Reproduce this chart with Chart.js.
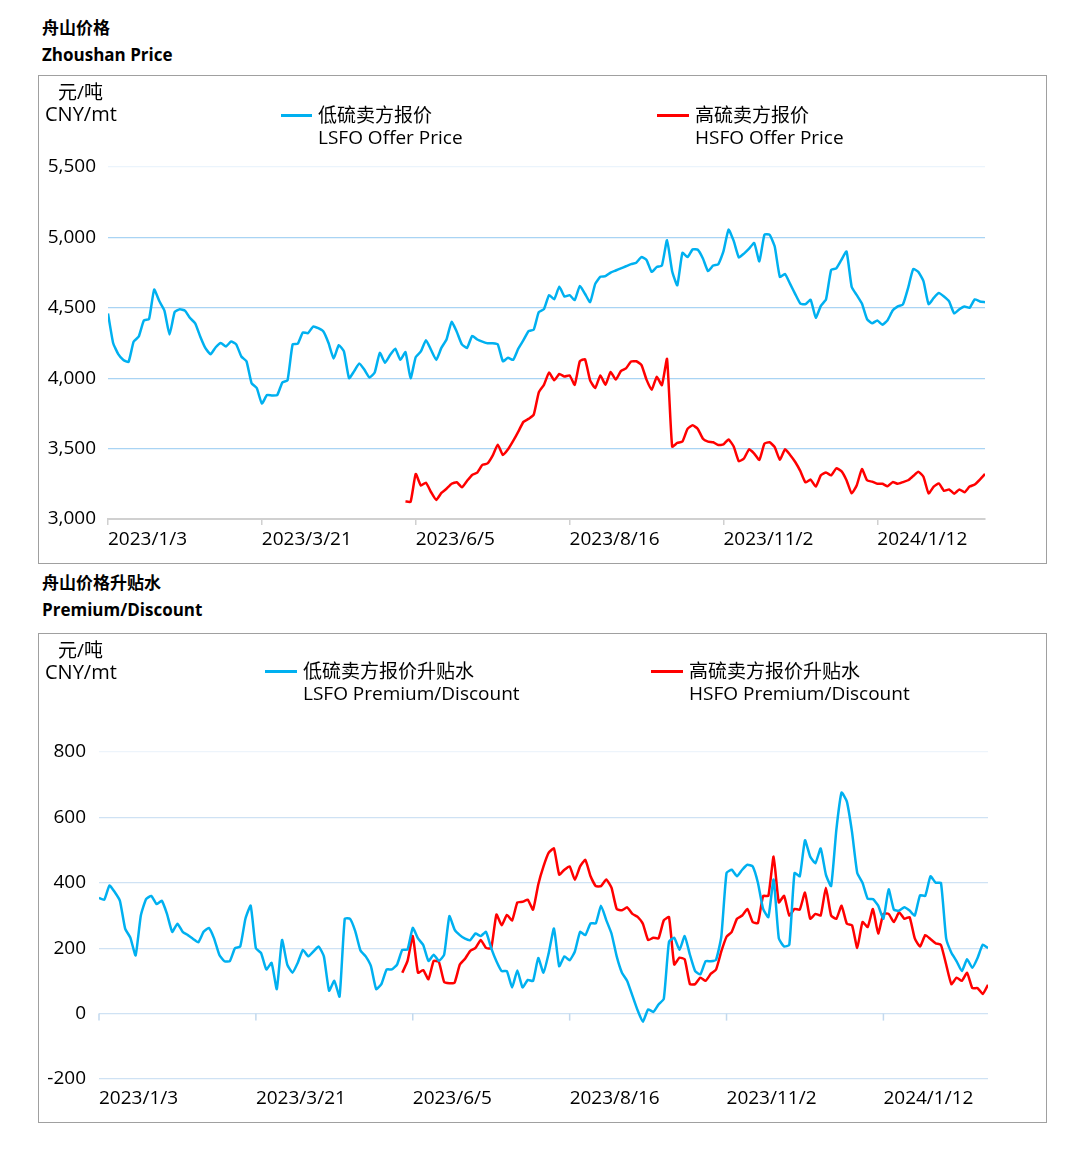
<!DOCTYPE html>
<html><head><meta charset="utf-8">
<script src="https://cdn.jsdelivr.net/npm/chart.js@4.4.1/dist/chart.umd.min.js"></script>
<style>
body{margin:0;width:1080px;height:1154px;background:#fff;position:relative;font-family:"Open Sans","Noto Sans CJK SC",sans-serif;color:#000;overflow:hidden}
.t{position:absolute;font-weight:bold;font-size:17px;line-height:20px;white-space:nowrap;left:42px}
.box{position:absolute;border:1px solid #a0a0a0;box-sizing:border-box}
.lbl{position:absolute;font-size:19px;line-height:22px;white-space:nowrap}
.sw{position:absolute;height:2.5px}
canvas{position:absolute}
</style></head>
<body>
<div class="t" style="top:18px">舟山价格</div>
<div class="t" style="top:45px">Zhoushan Price</div>
<div class="box" style="left:38px;top:75px;width:1009px;height:489px"></div>
<canvas id="c1" width="1006" height="486" style="left:39px;top:76px;width:1006px;height:486px"></canvas>
<div class="lbl" style="left:58px;top:81px">元/吨</div>
<div class="lbl" style="left:45px;top:103px;font-size:20px">CNY/mt</div>
<div class="sw" style="left:281px;top:114px;width:31px;background:#00b0f0"></div>
<div class="lbl" style="left:318px;top:104px">低硫卖方报价</div>
<div class="lbl" style="left:318px;top:126px">LSFO Offer Price</div>
<div class="sw" style="left:657px;top:114px;width:32px;background:#ff0000"></div>
<div class="lbl" style="left:695px;top:104px">高硫卖方报价</div>
<div class="lbl" style="left:695px;top:126px">HSFO Offer Price</div>

<div class="t" style="top:573px">舟山价格升贴水</div>
<div class="t" style="top:600px">Premium/Discount</div>
<div class="box" style="left:38px;top:633px;width:1009px;height:490px"></div>
<canvas id="c2" width="1006" height="487" style="left:39px;top:634px;width:1006px;height:487px"></canvas>
<div class="lbl" style="left:58px;top:639px">元/吨</div>
<div class="lbl" style="left:45px;top:661px;font-size:20px">CNY/mt</div>
<div class="sw" style="left:265px;top:670px;width:32px;background:#00b0f0"></div>
<div class="lbl" style="left:303px;top:660px">低硫卖方报价升贴水</div>
<div class="lbl" style="left:303px;top:682px">LSFO Premium/Discount</div>
<div class="sw" style="left:651px;top:670px;width:32px;background:#ff0000"></div>
<div class="lbl" style="left:689px;top:660px">高硫卖方报价升贴水</div>
<div class="lbl" style="left:689px;top:682px">HSFO Premium/Discount</div>

<script>
// ---- data ----
const tickLabels = ["2023/1/3","2023/3/21","2023/6/5","2023/8/16","2023/11/2","2024/1/12"];
const tickIdx = [0,30,60,90,120,150];
const priceTicks = [3000,3500,4000,4500,5000,5500];
const premTicks = [-200,0,200,400,600,800];

const lsfoPrice = [4460,4250,4171,4130,4115,4260,4296,4410,4420,4630,
 4548,4480,4310,4470,4490,4480,4427,4390,4295,4213,
 4170,4220,4250,4225,4260,4240,4154,4120,3964,3930,
 3820,3880,3877,3880,3970,3985,4240,4245,4325,4320,
 4367,4355,4332,4250,4140,4235,4190,4000,4050,4105,
 4060,4005,4040,4180,4110,4165,4210,4130,4185,4000,
 4150,4190,4270,4200,4130,4215,4275,4400,4330,4240,
 4215,4300,4275,4260,4248,4248,4240,4120,4145,4130,
 4210,4270,4335,4344,4470,4490,4590,4560,4650,4580,
 4590,4555,4655,4600,4540,4670,4720,4725,4750,4765,
 4780,4795,4810,4820,4860,4840,4755,4790,4800,4980,
 4760,4660,4890,4860,4915,4912,4850,4760,4800,4810,
 4900,5055,4975,4858,4885,4920,4960,4830,5020,5019,
 4935,4720,4740,4670,4597,4530,4526,4557,4430,4514,
 4560,4770,4780,4840,4900,4650,4590,4530,4420,4390,
 4410,4380,4412,4480,4510,4524,4640,4775,4755,4690,
 4526,4570,4605,4580,4545,4460,4490,4510,4500,4560,
 4545,4540];

const hsfoPriceStart = 58;
const hsfoPrice = [3125,3122,3320,3238,3258,3190,3135,3185,3215,3250,
 3261,3225,3270,3313,3330,3384,3395,3450,3528,3455,
 3495,3555,3620,3690,3711,3740,3900,3953,4040,3985,
 4030,4012,4020,3953,4120,4135,3985,3930,4020,3953,
 4045,3990,4050,4070,4118,4120,4095,3990,3917,4010,
 3950,4137,3514,3540,3550,3640,3665,3640,3570,3550,
 3545,3525,3530,3565,3515,3410,3430,3495,3465,3420,
 3535,3545,3510,3420,3495,3455,3405,3340,3260,3280,
 3230,3310,3330,3310,3360,3340,3275,3182,3240,3355,
 3275,3265,3250,3250,3232,3262,3250,3262,3275,3305,
 3335,3300,3182,3230,3253,3200,3210,3180,3210,3190,
 3230,3245,3280,3320];

const lsfoPrem = [354,348,392,372,345,260,232,178,300,350,
 360,335,345,305,250,275,250,240,228,218,
 250,262,230,180,160,160,200,205,290,330,
 200,185,135,155,75,225,150,125,155,195,
 175,190,205,175,70,100,52,290,290,252,
 193,175,145,75,90,135,135,150,195,196,
 262,230,210,161,180,161,180,298,257,240,
 229,225,245,237,250,200,160,130,130,80,
 132,80,103,100,170,125,185,260,145,175,
 163,190,250,240,276,276,330,286,245,175,
 125,100,55,10,-25,13,5,28,45,220,
 232,195,237,180,130,120,160,160,165,235,
 430,440,420,440,455,450,400,320,295,410,
 230,205,210,430,420,530,480,460,505,425,
 390,562,676,649,555,430,400,351,350,330,
 290,380,318,315,325,315,300,362,360,420,
 400,400,230,186,160,130,166,140,170,211,
 200];

const hsfoPremStart = 58;
const hsfoPrem = [125,161,237,125,133,105,161,158,97,93,
 95,150,168,192,201,225,201,200,303,270,
 302,285,340,342,348,318,395,450,492,505,
 425,440,450,409,450,470,420,390,390,410,
 385,320,316,325,305,296,275,225,232,230,
 285,295,150,171,166,90,90,110,100,122,
 135,190,235,250,290,300,320,280,277,360,
 360,480,340,360,300,320,318,370,290,305,
 300,385,300,290,330,275,270,201,280,265,
 320,245,305,305,280,310,290,295,230,205,
 240,228,215,210,150,90,110,100,125,78,
 78,60,88];

// ---- rendering ----
const F = '"Open Sans","Noto Sans CJK SC",sans-serif';
const BLUE = '#00b0f0', RED = '#ff0000';
const pts = (arr, start) => arr.map((v, i) => ({x: i + start, y: v}));
const lineDs = (data, color) => ({data, borderColor: color, borderWidth: 2.5, pointRadius: 0, tension: 0.15, fill: false, spanGaps: false});
const setTicks = vals => s => { s.ticks = vals.map(v => ({value: v})); };

new Chart(document.getElementById('c1'), {
  type: 'line',
  data: {datasets: [lineDs(pts(lsfoPrice, 0), BLUE), lineDs(pts(hsfoPrice, hsfoPriceStart), RED)]},
  options: {
    responsive: false, animation: false, events: [],
    layout: {padding: {left: 0, right: 60, top: 91, bottom: 0}},
    plugins: {legend: {display: false}, tooltip: {enabled: false}},
    scales: {
      x: {type: 'linear', min: 0, max: lsfoPrice.length - 1,
        afterBuildTicks: setTicks(tickIdx), afterFit: s => { s.height = 43; },
        grid: {drawOnChartArea: false, drawTicks: true, tickLength: 6, color: '#d0d0d0', lineWidth: 1.5},
        border: {display: true, color: '#d0d0d0', width: 2},
        ticks: {align: 'start', padding: 3, maxRotation: 0, autoSkip: false, font: {size: 19, family: F}, color: '#000',
          callback: v => tickLabels[tickIdx.indexOf(v)]}},
      y: {min: 3000, max: 5500,
        afterBuildTicks: setTicks(priceTicks), afterFit: s => { s.width = 69; },
        grid: {drawTicks: false, lineWidth: 1.3, color: c => c.tick.value === 5500 ? '#ebf4fc' : (c.tick.value === 3000 ? 'rgba(0,0,0,0)' : '#a9d4f4')},
        border: {display: false},
        ticks: {padding: 12, font: {size: 19, family: F}, color: '#000', callback: v => v.toLocaleString('en-US')}}
    }
  }
});

const zeroTicks = {
  id: 'zeroTicks',
  afterDatasetsDraw(chart) {
    const {ctx, scales: {x, y}} = chart;
    const y0 = y.getPixelForValue(0);
    ctx.save();
    ctx.strokeStyle = '#c3d9ee';
    ctx.lineWidth = 1.5;
    tickIdx.forEach(t => {
      const px = x.getPixelForValue(t);
      ctx.beginPath(); ctx.moveTo(px, y0); ctx.lineTo(px, y0 + 7); ctx.stroke();
    });
    ctx.restore();
  }
};

new Chart(document.getElementById('c2'), {
  type: 'line',
  data: {datasets: [lineDs(pts(lsfoPrem, 0), BLUE), lineDs(pts(hsfoPrem, hsfoPremStart), RED)]},
  options: {
    responsive: false, animation: false, events: [],
    layout: {padding: {left: 0, right: 57, top: 118, bottom: 0}},
    plugins: {legend: {display: false}, tooltip: {enabled: false}},
    scales: {
      x: {type: 'linear', min: 0, max: lsfoPrem.length - 1,
        afterBuildTicks: setTicks(tickIdx), afterFit: s => { s.height = 42; },
        grid: {display: false, drawTicks: false},
        border: {display: false},
        ticks: {align: 'start', padding: 8, maxRotation: 0, autoSkip: false, font: {size: 19, family: F}, color: '#000',
          callback: v => tickLabels[tickIdx.indexOf(v)]}},
      y: {min: -200, max: 800,
        afterBuildTicks: setTicks(premTicks), afterFit: s => { s.width = 60; },
        grid: {drawTicks: false, lineWidth: 1.3, color: c => c.tick.value === 800 ? '#edf4fb' : '#cfe2f4'},
        border: {display: false},
        ticks: {padding: 13, font: {size: 19, family: F}, color: '#000', callback: v => String(v)}}
    }
  },
  plugins: [zeroTicks]
});
</script>
</body></html>
